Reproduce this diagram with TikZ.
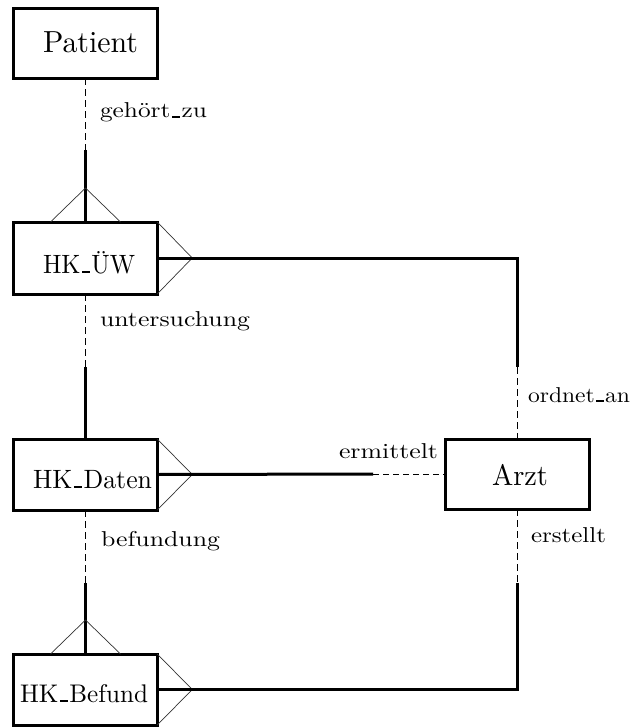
\documentclass[tikz,border=0pt]{standalone}
\usepackage{graphicx}
\usetikzlibrary{calc}
\newcommand\fitt[3]{\resizebox{#1pt}{#2\height}{\fontsize{10pt}{12pt}\selectfont #3}}
\newcommand\usc{\kern.06em\rule{.32em}{.09em}\kern.06em}
\tikzset{
  ent/.style={draw, line width=3pt, inner sep=0pt, outer sep=0pt},
  txt/.style={inner sep=0pt, outer sep=0pt},
  solidrel/.style={line width=3pt},
  dashrel/.style={line width=0.8pt, dash pattern=on 7pt off 4pt},
  crow/.style={line width=0.7pt, black!80},
}
\begin{document}
\begin{tikzpicture}[x=1pt,y=-1pt]
\useasboundingbox (0,0) rectangle (641,727);
% entities
\node[ent, minimum width=143.5pt, minimum height=69.5pt] (patient) at (85.5,43.5) {};
\node[ent, minimum width=143.5pt, minimum height=72pt] (hkuew) at (85.5,258) {};
\node[ent, minimum width=143.5pt, minimum height=71pt] (hkdaten) at (85.5,474.5) {};
\node[ent, minimum width=143.5pt, minimum height=71pt] (hkbefund) at (85.5,689.5) {};
\node[ent, minimum width=144pt, minimum height=70pt] (arzt) at (517.5,474) {};
% entity names
\node[txt, anchor=base west] (tpatient) at (43,53) {\fitt{95}{3.05}{Patient}};
\node[txt, anchor=base west] (thkuew) at (43,273) {\fitt{92}{2.65}{HK\usc\"UW}};
\node[txt, anchor=base west] (thkdaten) at (33,488) {\fitt{119}{2.65}{HK\usc Daten}};
\node[txt, anchor=base west] (thkbefund) at (20,702) {\fitt{128}{2.55}{HK\usc Befund}};
\node[txt, anchor=base west] (tarzt) at (492,485) {\fitt{56}{2.95}{Arzt}};
% relationship labels
\node[txt, anchor=base west] (lgehoert) at (100,118) {\fitt{107}{2.15}{geh\"ort\usc zu}};
\node[txt, anchor=base west] (lunters) at (100,326) {\fitt{150}{2.15}{untersuchung}};
\node[txt, anchor=base west] (lbefund) at (101,546) {\fitt{119}{2.15}{befundung}};
\node[txt, anchor=base west] (lordnet) at (528,402) {\fitt{102}{2.15}{ordnet\usc an}};
\node[txt, anchor=base east] (lermit) at (438,458) {\fitt{99}{2.15}{ermittelt}};
\node[txt, anchor=base west] (lerst) at (531,542) {\fitt{75}{2.15}{erstellt}};
% coordinates
\coordinate (m1) at (patient.south |- 0,150);
\coordinate (m2) at (hkuew.south |- 0,367);
\coordinate (m3) at (hkdaten.south |- 0,583);
\coordinate (c1) at (arzt.north |- hkuew.east);
\coordinate (m4) at (arzt.north |- 0,367);
\coordinate (m5) at (373,0 |- arzt.west);
\coordinate (m6) at (arzt.south |- 0,583);
\coordinate (c2) at (arzt.south |- hkbefund.east);
% gehoert_zu
\draw[dashrel] (patient.south) -- (m1);
\draw[solidrel] (m1) -- (hkuew.north);
\draw[crow] ($(hkuew.north)+(-35,0)$) -- ($(hkuew.north)+(0,-34)$) -- ($(hkuew.north)+(35,0)$);
% untersuchung
\draw[dashrel] (hkuew.south) -- (m2);
\draw[solidrel] (m2) -- (hkdaten.north);
% befundung
\draw[dashrel] (hkdaten.south) -- (m3);
\draw[solidrel] (m3) -- (hkbefund.north);
\draw[crow] ($(hkbefund.north)+(-35,0)$) -- ($(hkbefund.north)+(0,-34)$) -- ($(hkbefund.north)+(35,0)$);
% ordnet_an
\draw[crow] (hkuew.north east) -- ($(hkuew.east)+(35,0)$) -- (hkuew.south east);
\draw[solidrel] (hkuew.east) -- (c1) -- (m4);
\draw[dashrel] (m4) -- (arzt.north);
% ermittelt
\draw[crow] (hkdaten.north east) -- ($(hkdaten.east)+(35,0)$) -- (hkdaten.south east);
\draw[solidrel] (hkdaten.east) -- (m5);
\draw[dashrel, dash pattern=on 6pt off 4pt] (m5) -- (arzt.west);
% erstellt
\draw[crow] (hkbefund.north east) -- ($(hkbefund.east)+(35,0)$) -- (hkbefund.south east);
\draw[dashrel] (arzt.south) -- (m6);
\draw[solidrel] (m6) -- (c2) -- (hkbefund.east);
\end{tikzpicture}
\end{document}
